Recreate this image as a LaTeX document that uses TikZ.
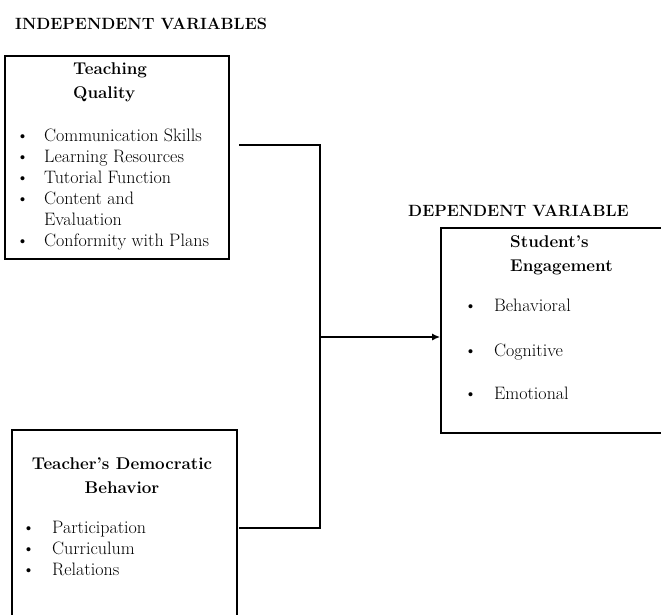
\documentclass[tikz,border=0pt]{standalone}
\usepackage{tikz}
\usetikzlibrary{positioning,arrows.meta}

\tikzset{
  box/.style={draw, line width=1.6pt, rectangle, inner sep=0pt},
  head/.style={font=\fontsize{17}{24}\selectfont\bfseries, inner sep=0pt},
  title/.style={font=\fontsize{16.3}{20}\selectfont\bfseries, inner sep=0pt, anchor=west},
  lst/.style={font=\fontsize{18}{21}\selectfont, inner sep=0pt, anchor=north west},
  link/.style={line width=1.6pt}
}

\begin{document}
\begin{tikzpicture}[x=1pt, y=-1pt]
            \useasboundingbox (0,0) rectangle (661,614);
            % titles
            \node [title] (indep) at (15,24) {INDEPENDENT VARIABLES};
            \node [title] (dep) at (408,211) {DEPENDENT VARIABLE};
            % boxes
            \node [box, minimum width=224pt, minimum height=203pt] (tq) at (117,157.5) {};
            \node [box, minimum width=225pt, minimum height=195pt] (tdb) at (124.5,527.5) {};
            \node [box, minimum width=221pt, minimum height=205pt] (se) at (551.5,330.5) {};
            % box contents
            \node [head, align=left, anchor=north west] (tqhead) at (73,62) {Teaching\\Quality};
            \node [lst] (tqlist) at (16,127) {\begin{tabular}{@{}l@{\hspace{15pt}}l@{}}
              \textbullet & Communication Skills\\
              \textbullet & Learning Resources\\
              \textbullet & Tutorial Function\\
              \textbullet & Content and\\
                          & Evaluation\\
              \textbullet & Conformity with Plans
            \end{tabular}};
            \node [head, align=center] (tdbhead) at (122,476) {Teacher's Democratic\\Behavior};
            \node [lst] (tdblist) at (22,519) {\begin{tabular}{@{}l@{\hspace{17pt}}l@{}}
              \textbullet & Participation\\
              \textbullet & Curriculum\\
              \textbullet & Relations
            \end{tabular}};
            \node [head, align=left, anchor=north west] (sehead) at (510,235) {Student's\\Engagement};
            \node [lst] (selist) at (464,297) {\begin{tabular}{@{}l@{\hspace{17pt}}l@{}}
              \textbullet & Behavioral\\[24pt]
              \textbullet & Cognitive\\[22pt]
              \textbullet & Emotional
            \end{tabular}};
            % connectors
            \coordinate (tqout) at (239,145);
            \coordinate (tdbout) at (239,528);
            \coordinate (joint) at (320,337);
            \draw [link] (tqout) -| (joint) |- (tdbout);
            \draw [link, -{Latex[length=8pt,width=7pt]}] (joint) -- (se.west |- joint);
        \end{tikzpicture}
\end{document}
